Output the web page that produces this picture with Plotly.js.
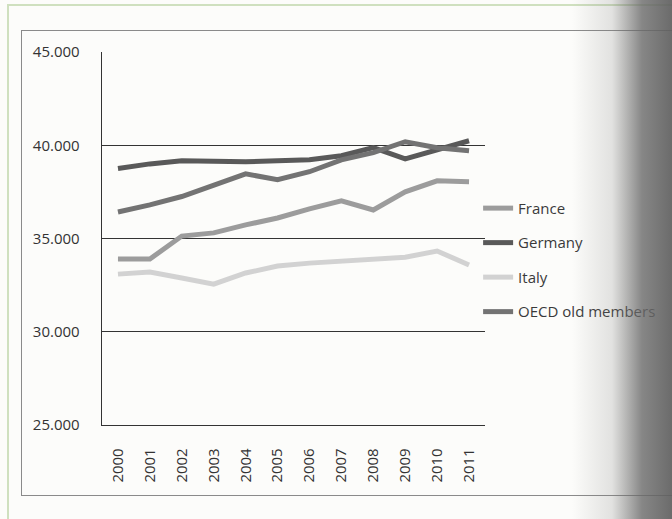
<!DOCTYPE html>
<html>
<head>
<meta charset="utf-8">
<script src="https://cdn.plot.ly/plotly-3.0.1.min.js"></script>
<style>
  html, body { margin: 0; padding: 0; background: #fbfbf9; }
  #page { position: relative; width: 672px; height: 519px; overflow: hidden; background: #fcfcfa; }
  #outer { position: absolute; left: 7px; top: 4px; width: 680px; height: 530px; border-left: 2px solid #cfe0bf; border-top: 2px solid #cfe0bf; }
  #inner { position: absolute; left: 21px; top: 30px; width: 700px; height: 464px; border: 1px solid #8a8a8a; }
  #chart { position: absolute; left: 0; top: 0; width: 672px; height: 519px; }
  #shade { position: absolute; right: 0; top: 0; width: 100px; height: 519px; pointer-events: none;
           background: linear-gradient(to right, rgba(120,120,120,0) 0%, rgba(120,120,120,0.2) 40%, rgba(105,105,105,0.8) 70%, rgba(95,95,95,0.92) 100%); }
</style>
</head>
<body>
<div id="page">
  <div id="outer"></div>
  <div id="inner"></div>
  <div id="chart"></div>
  <div id="shade"></div>
</div>
<script>
// GDP per capita series, 2000-2011
const years = ["2000","2001","2002","2003","2004","2005","2006","2007","2008","2009","2010","2011"];
const france  = [33900, 33900, 35130, 35300, 35730, 36100, 36590, 37020, 36530, 37500, 38090, 38040];
const germany = [38750, 39000, 39170, 39140, 39110, 39170, 39220, 39440, 39870, 39270, 39760, 40240];
const italy   = [33090, 33200, 32880, 32550, 33150, 33520, 33680, 33790, 33840, 34000, 34330, 33580];
const oecdOld = [36420, 36800, 37250, 37880, 38470, 38150, 38580, 39220, 39600, 40190, 39870, 39700];
const yTicks = [25000, 30000, 35000, 40000, 45000];

function series(name, y, color) {
  return {
    type: "scatter", mode: "lines", name: name, x: years, y: y,
    legendgroup: name,
    line: { color: color, width: 5 }
  };
}

const data = [
  series("France", france, "#9c9c9c"),
  series("Germany", germany, "#595959"),
  series("Italy", italy, "#d2d2d2"),
  series("OECD old members", oecdOld, "#737373")
];

const layout = {
  width: 672, height: 519,
  margin: { l: 102, r: 187, t: 52, b: 94, autoexpand: false },
  paper_bgcolor: "rgba(0,0,0,0)",
  plot_bgcolor: "rgba(0,0,0,0)",
  separators: ",.",
  font: { family: "Open Sans, DejaVu Sans, sans-serif", color: "#3a3a3a", size: 14 },
  showlegend: true,
  legend: {
    x: 0.982, xanchor: "left", y: 0.625, yanchor: "top",
    bgcolor: "rgba(0,0,0,0)", tracegroupgap: 12,
    font: { size: 15, color: "#3a3a3a", family: "Open Sans, DejaVu Sans, sans-serif" }
  },
  xaxis: {
    type: "category", range: [-0.5, 11.5],
    showgrid: false, zeroline: false,
    showline: true, linecolor: "#333", linewidth: 1.3,
    ticks: "", tickangle: -90, ticklabelstandoff: 16,
    tickfont: { size: 15, color: "#333" }
  },
  yaxis: {
    range: [25000, 45000], tickvals: yTicks, tickformat: ",d",
    showgrid: true, gridcolor: "#333", gridwidth: 1.3,
    zeroline: false, showline: true, linecolor: "#333", linewidth: 1.3,
    ticks: "", ticklabelstandoff: 18,
    tickfont: { size: 15, color: "#333" }
  }
};

Plotly.newPlot("chart", data, layout, { displayModeBar: false, staticPlot: true });
</script>
</body>
</html>
